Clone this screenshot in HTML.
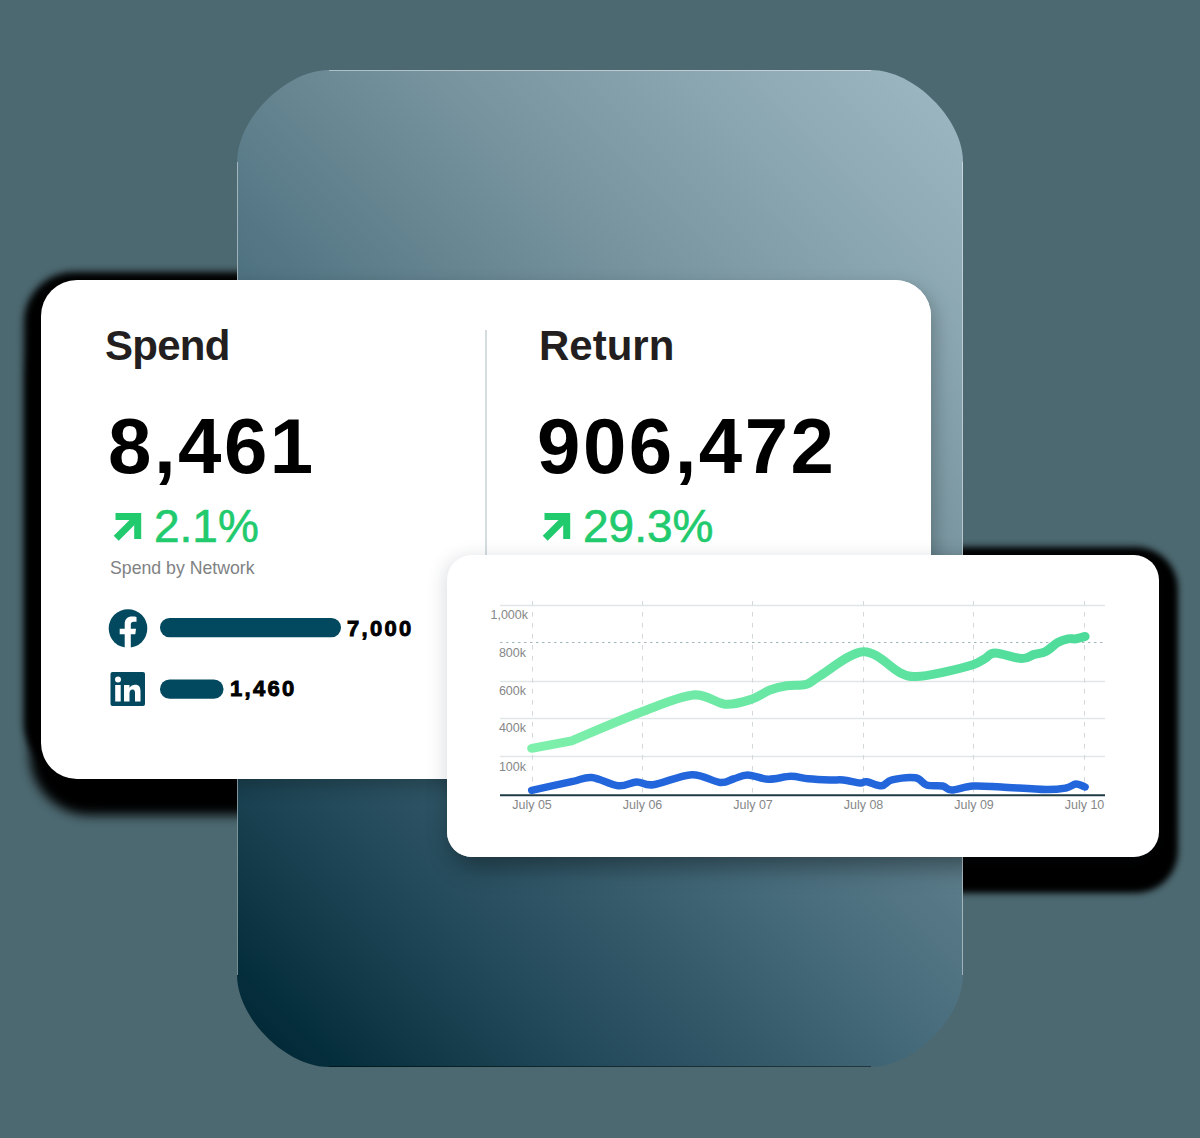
<!DOCTYPE html>
<html><head><meta charset="utf-8">
<style>
html,body{margin:0;padding:0}
body{width:1200px;height:1138px;background:#4c6870;position:relative;overflow:hidden;font-family:"Liberation Sans",sans-serif}
.abs{position:absolute}
.bsh{position:absolute;background:#000;filter:blur(3px)}
#sh1{left:24px;top:272px;width:922px;height:500px;border-radius:50px;filter:blur(3.5px)}
#sh1b{left:30px;top:320px;width:916px;height:495px;border-radius:60px;filter:blur(5.5px)}
#sh2{left:440px;top:547px;width:738px;height:346px;border-radius:42px}
#big{left:237px;top:70px;width:726px;height:997px;overflow:hidden;clip-path:path('M92,0 H634 C677,0 726,49 726,92 V905 C726,948 677,997 634,997 H92 C49,997 0,948 0,905 V92 C0,49 49,0 92,0 Z');
 background:linear-gradient(45deg,rgb(0,35,48) 0%,rgb(5,46,60) 5.8%,rgb(35,74,90) 20.9%,rgb(52,90,106) 30.8%,rgb(69,106,122) 40.6%,rgb(102,133,145) 59.2%,rgb(122,151,161) 71.4%,rgb(151,178,189) 94.1%,rgb(158,185,196) 100%)}
.ss{position:absolute;background:#fff}
#ss1{left:-196px;top:210px;width:890px;height:499px;border-radius:36px;box-shadow:4px 7px 18px rgba(0,0,0,.24)}
#ss2{left:210px;top:485px;width:712px;height:302px;border-radius:25px;box-shadow:6px 10px 24px rgba(0,0,0,.36)}
#card1{left:41px;top:280px;width:890px;height:499px;border-radius:36px;background:#fff}
#card2{left:447px;top:555px;width:712px;height:302px;border-radius:25px;background:#fff;box-shadow:-3px 2px 18px rgba(30,50,60,.15)}
.t{position:absolute;white-space:nowrap;line-height:1}
</style></head><body>
<div id="sh1" class="bsh"></div>
<div id="sh1b" class="bsh"></div>
<div id="sh2" class="bsh"></div>
<div id="big" class="abs">
  <div id="ss1" class="ss"></div>
  <div id="ss2" class="ss"></div>
</div>
<div class="abs" style="left:329px;top:70px;width:542px;height:1px;background:rgba(255,255,255,.45)"></div>
<div class="abs" style="left:237px;top:162px;width:1px;height:813px;background:rgba(255,255,255,.45)"></div>
<div class="abs" style="left:962px;top:162px;width:1px;height:813px;background:rgba(255,255,255,.45)"></div>
<div class="abs" style="left:329px;top:1066px;width:542px;height:1px;background:rgba(0,0,0,.45)"></div>
<div id="card1" class="abs"></div>
<!-- card1 content -->
<div class="abs" style="left:485px;top:330px;width:2px;height:226px;background:#d4dce0"></div>
<div class="t" id="tSpend" style="left:105px;top:324.5px;font-size:42px;font-weight:bold;color:#231f20;letter-spacing:-0.75px">Spend</div>
<div class="t" id="tReturn" style="left:539px;top:324.5px;font-size:42px;font-weight:bold;color:#231f20;letter-spacing:0px">Return</div>
<div class="t" id="tN1" style="left:108px;top:407px;font-size:78px;font-weight:bold;color:#000;letter-spacing:2.5px">8,461</div>
<div class="t" id="tN2" style="left:537px;top:407px;font-size:78px;font-weight:bold;color:#000;letter-spacing:2.5px">906,472</div>
<svg class="abs" style="left:0;top:0" width="1200" height="1138">
 <g fill="none" stroke="#22ca6e" stroke-width="7" stroke-linecap="butt">
  <path d="M116.2 538.3 L137 517.5"/><path d="M115.5 516.5 H137.7 V539"/>
  <path d="M545.2 538.3 L566 517.5"/><path d="M544.5 516.5 H566.7 V539"/>
 </g>
</svg>
<div class="t" id="tP1" style="left:154px;top:503px;font-size:46px;color:#22ca6e;-webkit-text-stroke:0.6px #22ca6e">2.1%</div>
<div class="t" id="tP2" style="left:583px;top:503px;font-size:46px;color:#22ca6e;-webkit-text-stroke:0.6px #22ca6e">29.3%</div>
<div class="t" id="tSBN" style="left:110px;top:559.5px;font-size:17.7px;color:#808284">Spend by Network</div>
<!-- social -->
<svg class="abs" style="left:0;top:0" width="1200" height="1138">
 <circle cx="128" cy="628.5" r="19.3" fill="#02485f"/>
 <path d="M124.7 648 V634.3 H119.7 V628.8 H124.7 V624 C124.7 619 127.5 616.5 132 616.5 C134 616.5 135.5 616.7 136.5 616.9 V621.8 H133.8 C131.7 621.8 130.8 622.8 130.8 624.5 V628.8 H136 L135.3 634.3 H130.8 V648 Z" fill="#fff"/>
 <rect x="110.5" y="672" width="34.5" height="34" rx="2" fill="#02485f"/>
 <rect x="115.2" y="685" width="5.5" height="16.5" fill="#fff"/>
 <circle cx="118" cy="679.5" r="3" fill="#fff"/>
 <path d="M124 685 H129.5 V687.8 C130.8 685.8 132.8 684.8 135.2 684.8 C139.3 684.8 140.5 687.5 140.5 691.5 V701.5 H135 V693 C135 690.8 134.4 689.6 132.6 689.6 C130.6 689.6 129.5 690.9 129.5 693.4 V701.5 H124 Z" fill="#fff"/>
 <rect x="160" y="618" width="181" height="19.3" rx="9.6" fill="#02485f"/>
 <rect x="160" y="679.5" width="63.5" height="19.3" rx="9.6" fill="#02485f"/>
</svg>
<div class="t" id="tV1" style="left:347px;top:617.5px;font-size:22px;font-weight:bold;color:#000;letter-spacing:2.3px;-webkit-text-stroke:0.9px #000">7,000</div>
<div class="t" id="tV2" style="left:230px;top:677.5px;font-size:22px;font-weight:bold;color:#000;letter-spacing:2.3px;-webkit-text-stroke:0.9px #000">1,460</div>
<div id="card2" class="abs"></div>
<svg class="abs" style="left:0;top:0" width="1200" height="1138">
 <g stroke="#e1e6e8" stroke-width="1.3">
  <line x1="500" y1="605.5" x2="1105" y2="605.5"/>
  <line x1="500" y1="681.5" x2="1105" y2="681.5"/>
  <line x1="500" y1="718.5" x2="1105" y2="718.5"/>
  <line x1="500" y1="756.5" x2="1105" y2="756.5"/>
 </g>
 <line x1="500" y1="642.5" x2="1105" y2="642.5" stroke="#a3b7bf" stroke-width="1.2" stroke-dasharray="2.5 3.5"/>
 <g stroke="#d3d8db" stroke-width="1" stroke-dasharray="4.5 6.5">
  <line x1="532.5" y1="601" x2="532.5" y2="795"/>
  <line x1="642.5" y1="601" x2="642.5" y2="795"/>
  <line x1="752.5" y1="601" x2="752.5" y2="795"/>
  <line x1="863.5" y1="601" x2="863.5" y2="795"/>
  <line x1="973.5" y1="601" x2="973.5" y2="795"/>
  <line x1="1084.5" y1="601" x2="1084.5" y2="795"/>
 </g>
 <line x1="500" y1="795.3" x2="1105" y2="795.3" stroke="#1e3a44" stroke-width="2"/>
 <defs><linearGradient id="gg" x1="530" y1="0" x2="1086" y2="0" gradientUnits="userSpaceOnUse"><stop offset="0" stop-color="#7ef0ab"/><stop offset="1" stop-color="#4ddb9a"/></linearGradient></defs>
 <path d="M531.7 748.3 L571.7 740.8 C583.1 736.1 619.7 720.1 640.0 712.5 C660.3 704.9 679.1 696.4 693.3 695.0 C707.5 693.6 715.3 703.5 725.0 704.2 C734.7 704.9 744.2 701.6 751.7 699.2 C759.2 696.8 764.2 692.2 770.0 690.0 C775.8 687.8 780.6 686.8 786.7 685.8 C792.8 684.8 801.2 685.9 806.7 684.2 C812.2 682.5 810.6 681.2 820.0 675.8 C829.4 670.4 849.9 652.2 863.3 651.7 C876.7 651.2 891.4 668.7 900.2 672.8 C909.1 676.9 909.7 676.4 916.4 676.4 C923.1 676.4 931.2 674.8 940.6 672.8 C950.0 670.8 965.6 667.1 973.0 664.7 C980.4 662.3 981.3 660.6 985.0 658.6 C988.7 656.6 989.1 653.0 995.2 653.0 C1001.3 653.0 1015.1 658.3 1021.5 658.6 C1027.9 658.9 1029.6 655.8 1033.6 654.6 C1037.6 653.4 1041.7 653.5 1045.7 651.5 C1049.8 649.5 1054.2 644.5 1057.9 642.4 C1061.6 640.3 1065.0 639.4 1068.0 638.8 C1071.0 638.2 1073.2 639.2 1076.0 638.8 C1078.8 638.4 1083.6 636.8 1085.1 636.4" fill="none" stroke="url(#gg)" stroke-width="9" stroke-linecap="round" stroke-linejoin="round"/>
 <path d="M531.7 790.3 C538.4 788.9 561.7 783.8 571.7 781.7 C581.7 779.6 583.9 776.8 591.7 777.5 C599.5 778.2 610.8 785.0 618.3 785.8 C625.8 786.5 630.9 782.2 636.7 782.0 C642.5 781.8 644.1 785.9 653.3 784.7 C662.5 783.5 680.6 775.1 691.7 774.7 C702.8 774.3 713.1 781.8 720.0 782.5 C726.9 783.2 728.7 780.2 733.3 779.0 C737.9 777.8 741.7 775.0 747.5 775.0 C753.3 775.0 761.1 779.0 768.3 779.2 C775.5 779.4 784.1 776.4 790.8 776.3 C797.5 776.2 801.8 778.2 808.3 778.8 C814.8 779.4 824.2 779.8 830.0 780.0 C835.8 780.2 838.3 779.5 843.3 780.0 C848.3 780.5 856.1 782.7 860.0 783.0 C863.9 783.3 863.1 781.2 866.7 781.7 C870.3 782.2 877.5 786.1 881.7 785.8 C885.9 785.5 886.4 781.2 892.0 779.9 C897.6 778.6 909.6 776.9 915.4 777.8 C921.1 778.6 922.0 783.6 926.5 785.0 C931.0 786.4 938.5 785.2 942.7 786.0 C946.9 786.8 946.7 790.0 951.7 790.0 C956.8 790.0 964.7 786.5 973.0 786.0 C981.3 785.5 989.2 786.4 1001.3 787.0 C1013.4 787.6 1034.9 789.4 1045.7 789.6 C1056.5 789.8 1061.0 788.9 1066.0 788.0 C1071.0 787.1 1072.8 784.2 1076.0 784.0 C1079.2 783.8 1083.6 786.5 1085.1 787.0" fill="none" stroke="#2366dc" stroke-width="7.5" stroke-linecap="round" stroke-linejoin="round"/>
 <g font-family="Liberation Sans, sans-serif" font-size="12.5" fill="#858788" text-anchor="end">
  <text x="528" y="619">1,000k</text>
  <text x="526" y="657">800k</text>
  <text x="526" y="695">600k</text>
  <text x="526" y="732">400k</text>
  <text x="526" y="770.5">100k</text>
 </g>
 <g font-family="Liberation Sans, sans-serif" font-size="12.5" fill="#858788" text-anchor="middle">
  <text x="532" y="809">July 05</text>
  <text x="642.5" y="809">July 06</text>
  <text x="753" y="809">July 07</text>
  <text x="863.5" y="809">July 08</text>
  <text x="974" y="809">July 09</text>
  <text x="1084.5" y="809">July 10</text>
 </g>
</svg>
</body></html>
